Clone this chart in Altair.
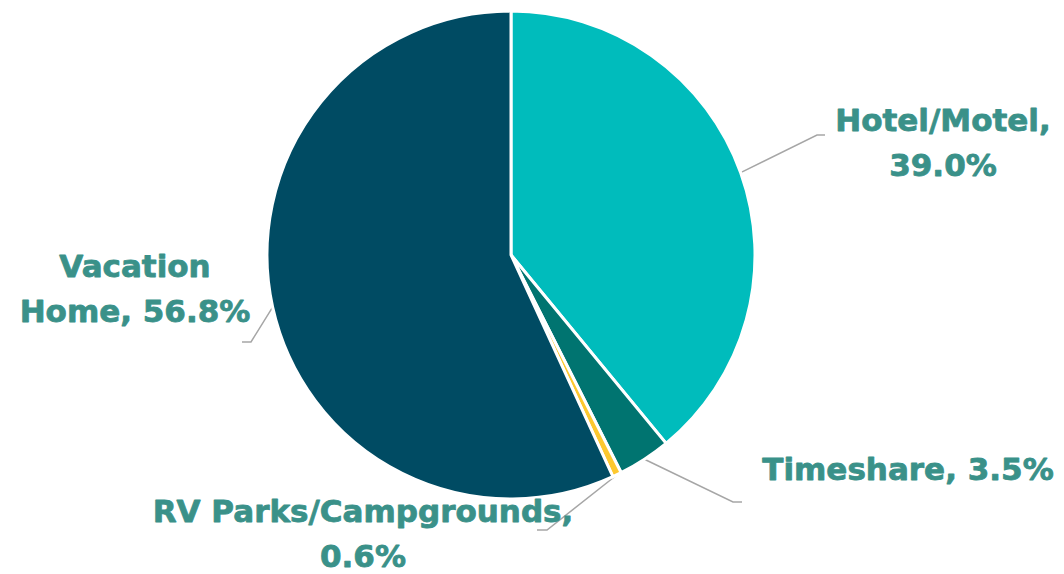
import altair as alt
import pandas as pd
import numpy as np

# ---- data ----
categories = ["Hotel/Motel", "Timeshare", "RV Parks/Campgrounds", "Vacation Home"]
values = [39.0, 3.5, 0.6, 56.8]
label_text = ["Hotel/Motel,\n39.0%", "Timeshare, 3.5%", "RV Parks/Campgrounds,\n0.6%", "Vacation\nHome, 56.8%"]
colors = ["#00BCBC", "#007470", "#FDC82F", "#004B63"]

# ---- layout (pixel offsets from pie centre, y downwards) ----
R = 244
W, H = 1048, 566
CX, CY = 503, 247
elbows = {"Hotel/Motel": (306, -120), "Timeshare": (222, 247),
          "RV Parks/Campgrounds": (36, 275), "Vacation Home": (-260, 87)}
stub_ends = {"Hotel/Motel": (314, -120), "Timeshare": (231, 247),
             "RV Parks/Campgrounds": (26, 275), "Vacation Home": (-269, 87)}
# position of the first text line (centre)
label_pos = {"Hotel/Motel": (432, -133), "Timeshare": (397, 216),
             "RV Parks/Campgrounds": (-148, 258), "Vacation Home": (-376, 13)}

df = pd.DataFrame({"cat": categories, "value": values, "idx": range(len(categories))})

# leader lines: start at slice mid-angle on the pie edge
total = sum(values)
cum = np.cumsum([0] + values[:-1])
rows = []
for c, v, s in zip(categories, values, cum):
    mid = (s + v / 2) / total * 2 * np.pi
    rows.append({"cat": c, "k": 0, "x": R * np.sin(mid), "y": -R * np.cos(mid)})
    rows.append({"cat": c, "k": 1, "x": elbows[c][0], "y": elbows[c][1]})
    rows.append({"cat": c, "k": 2, "x": stub_ends[c][0], "y": stub_ends[c][1]})
lines_df = pd.DataFrame(rows)

labels_df = pd.DataFrame({"cat": categories, "text": label_text,
                          "x": [label_pos[c][0] for c in categories],
                          "y": [label_pos[c][1] for c in categories]})

xs = alt.Scale(domain=[-CX, W - CX], nice=False, zero=False)
ys = alt.Scale(domain=[-CY, H - CY], nice=False, zero=False, reverse=True)

pie = alt.Chart(df).mark_arc(outerRadius=R, stroke="white", strokeWidth=3).encode(
    theta=alt.Theta("value:Q", stack=True),
    order=alt.Order("idx:Q"),
    color=alt.Color("cat:N", scale=alt.Scale(domain=categories, range=colors), legend=None),
    x=alt.datum(0, scale=xs, axis=None),
    y=alt.datum(0, scale=ys, axis=None),
)

leaders = alt.Chart(lines_df).mark_line(color="#A6A6A6", strokeWidth=1.5).encode(
    x=alt.X("x:Q", scale=xs, axis=None),
    y=alt.Y("y:Q", scale=ys, axis=None),
    detail="cat:N",
    order="k:Q",
)

labels = alt.Chart(labels_df).mark_text(
    font="DejaVu Sans", fontWeight="bold", fontSize=31, color="#3A9189",
    stroke="#3A9189", strokeWidth=0.8, strokeJoin="round",
    align="center", baseline="middle", lineBreak="\n", lineHeight=45,
).encode(
    x=alt.X("x:Q", scale=xs, axis=None),
    y=alt.Y("y:Q", scale=ys, axis=None),
    text="text:N",
)

chart = alt.layer(leaders, pie, labels).properties(
    width=W, height=H, autosize=alt.AutoSizeParams(type="none"), padding=0
).configure_view(stroke=None)

chart.save("out.html", embed_options={"renderer": "svg", "actions": False})
